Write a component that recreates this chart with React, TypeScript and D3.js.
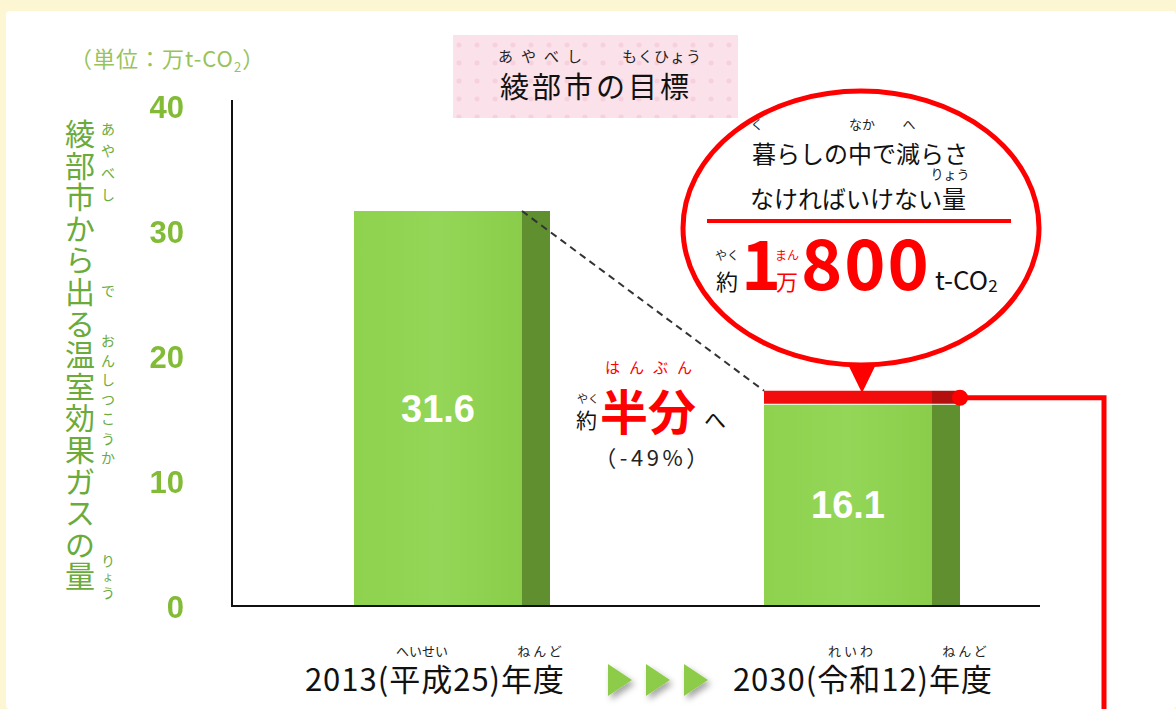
import React from "react";
import * as d3 from "d3";

const categories = ["2013", "2030"];
const values = [31.6, 16.1];
const barLabels = ["31.6", "16.1"];
const yTicks = [0, 10, 20, 30, 40];
const yearLabels = ["2013(平成25)年度", "2030(令和12)年度"];
const axisTitleChars = Array.from("綾部市から出る温室効果ガスの量");

const W = 1176;
const H = 709;
const JP = "'Noto Sans CJK JP', 'Noto Sans', sans-serif";
const NUM = "'Liberation Sans', Arial, sans-serif";

export default function App() {
  const y = d3.scaleLinear().domain([0, 40]).range([606, 106]);
  const x = d3.scalePoint<string>().domain(categories).range([452, 862]);
  const barW = 196;
  const sideW = 28;
  const x0 = 232;
  const x1 = 1040;

  const bar1Right = (x(categories[0]) as number) + barW / 2 - sideW;
  const bar2Left = (x(categories[1]) as number) - barW / 2;
  const top1 = y(values[0]);
  const top2 = y(values[1]);
  const redBand = 14;

  return (
    <svg width={W} height={H} style={{ position: "absolute", left: 0, top: 0 }}>
      <defs>
        <pattern id="dots" width="18" height="18" patternUnits="userSpaceOnUse">
          <rect width="18" height="18" fill="#fbe1ea" />
          <circle cx="9" cy="9" r="2.5" fill="#f6d0dd" />
        </pattern>
        <linearGradient id="barg" x1="0" x2="1" y1="0" y2="0">
          <stop offset="0" stopColor="#8ed24e" />
          <stop offset="0.5" stopColor="#94d657" />
          <stop offset="1" stopColor="#8acd4a" />
        </linearGradient>
        <filter id="glow" x="-20%" y="-20%" width="140%" height="140%">
          <feGaussianBlur stdDeviation="0.6" />
        </filter>
        <filter id="shadow" x="-30%" y="-30%" width="180%" height="180%">
          <feDropShadow dx="3" dy="4" stdDeviation="3" floodColor="#000" floodOpacity="0.35" />
        </filter>
      </defs>
      <rect x={0} y={0} width={W} height={H} fill="#fdf6d2" />
      <rect x={6} y={11} width={W - 6} height={H - 11} rx={4} fill="#ffffff" />

      {/* unit label */}
      <text x={70} y={67} fontFamily={JP} fontSize={22} fill="#97c35a" letterSpacing={1}>
        （単位：万t-CO<tspan fontSize={13} dy={5}>2</tspan>
        <tspan dy={-5}>）</tspan>
      </text>

      {/* title box */}
      <rect x={453} y={35} width={285} height={83} fill="url(#dots)" />
      <text x={544} y={62} fontFamily={JP} fontSize={15} fill="#222" textAnchor="middle" letterSpacing={8}>あやべし</text>
      <text x={662} y={62} fontFamily={JP} fontSize={15} fill="#222" textAnchor="middle" letterSpacing={1}>もくひょう</text>
      <text x={596} y={98} fontFamily={JP} fontSize={29} fill="#111" textAnchor="middle" letterSpacing={3}>綾部市の目標</text>

      {/* y axis title */}
      {axisTitleChars.map((c, i) => (
        <text key={i} x={80} y={132 + i * 31.6} fontFamily={JP} fontSize={30} fill="#6aab3c" textAnchor="middle" dominantBaseline="central">{c}</text>
      ))}
      {Array.from("あやべし").map((c, i) => (
        <text key={"a" + i} x={108} y={128 + i * 22} fontFamily={JP} fontSize={14} fill="#6aab3c" textAnchor="middle" dominantBaseline="central">{c}</text>
      ))}
      <text x={108} y={290} fontFamily={JP} fontSize={14} fill="#6aab3c" textAnchor="middle" dominantBaseline="central">で</text>
      {Array.from("おんしつこうか").map((c, i) => (
        <text key={"o" + i} x={108} y={340 + i * 19.5} fontFamily={JP} fontSize={14} fill="#6aab3c" textAnchor="middle" dominantBaseline="central">{c}</text>
      ))}
      {["り", "ょ", "う"].map((c, i) => (
        <text key={"r" + i} x={108} y={560 + i * 16} fontFamily={JP} fontSize={i === 1 ? 11 : 14} fill="#6aab3c" textAnchor="middle" dominantBaseline="central">{c}</text>
      ))}

      {/* y ticks */}
      {yTicks.map((t) => (
        <text key={t} x={184} y={y(t) + 1} fontFamily={NUM} fontWeight="bold" fontSize={31} fill="#82bb36" textAnchor="end" dominantBaseline="central" filter="url(#glow)">{t}</text>
      ))}

      {/* bars */}
      {categories.map((c, i) => {
        const cx = x(c) as number;
        const left = cx - barW / 2;
        const top = y(values[i]);
        return (
          <g key={c}>
            <rect x={left} y={top} width={barW - sideW} height={y(0) - top} fill="url(#barg)" />
            <rect x={left + barW - sideW} y={top} width={sideW} height={y(0) - top} fill="#5f8f2f" />
            <text x={left + (barW - sideW) / 2} y={(top + y(0)) / 2} fontFamily={NUM} fontWeight="bold" fontSize={38} fill="#ffffff" textAnchor="middle" dominantBaseline="central">{barLabels[i]}</text>
          </g>
        );
      })}

      {/* red band on 2030 bar */}
      <rect x={bar2Left} y={top2 - redBand} width={barW - sideW} height={redBand - 1} fill="#f20c0c" />
      <rect x={bar2Left + barW - sideW} y={top2 - redBand} width={sideW} height={redBand - 1} fill="#b30f0f" />

      {/* axes */}
      <line x1={x0} x2={x0} y1={100} y2={y(0) + 1} stroke="#111" strokeWidth={2} />
      <line x1={x0} x2={x1} y1={y(0)} y2={y(0)} stroke="#111" strokeWidth={2} />

      {/* dashed connector */}
      <line x1={bar1Right} y1={top1} x2={bar2Left} y2={top2 - redBand} stroke="#333" strokeWidth={2} strokeDasharray="7 5" />

      {/* red leader */}
      <polyline points={`${bar2Left + barW},${top2 - 7} 1104,${top2 - 7} 1104,${H}`} fill="none" stroke="#ff0000" strokeWidth={5} />
      <circle cx={bar2Left + barW} cy={top2 - 7} r={8} fill="#ff0000" />

      {/* callout bubble */}
      <polygon points="841,350 883,350 862,393" fill="#ff0000" />
      <ellipse cx={861} cy={228} rx={178} ry={137} fill="#ffffff" stroke="#ff0000" strokeWidth={5} />
      <text x={757} y={129} fontFamily={JP} fontSize={13} fill="#222" textAnchor="middle">く</text>
      <text x={862} y={129} fontFamily={JP} fontSize={13} fill="#222" textAnchor="middle">なか</text>
      <text x={909} y={129} fontFamily={JP} fontSize={13} fill="#222" textAnchor="middle">へ</text>
      <text x={860} y={163} fontFamily={JP} fontSize={24} fill="#111" textAnchor="middle">暮らしの中で減らさ</text>
      <text x={950} y={179} fontFamily={JP} fontSize={13} fill="#222" textAnchor="middle">りょう</text>
      <text x={858} y={208} fontFamily={JP} fontSize={24} fill="#111" textAnchor="middle">なければいけない量</text>
      <line x1={707} x2={1011} y1={221} y2={221} stroke="#ff0000" strokeWidth={4} />
      <text x={727} y={260} fontFamily={JP} fontSize={12} fill="#222" textAnchor="middle">やく</text>
      <text x={716} y={290} fontFamily={JP} fontSize={22} fill="#111">約</text>
      <text x={741} y={290} fontFamily={JP} fontSize={68} fontWeight="bold" fill="#ff0000">1</text>
      <text x={787} y={260} fontFamily={JP} fontSize={12} fill="#ff0000" textAnchor="middle">まん</text>
      <text x={776} y={290} fontFamily={JP} fontSize={22} fill="#ff0000">万</text>
      <text x={801} y={290} fontFamily={JP} fontSize={70} fontWeight="bold" fill="#ff0000" letterSpacing={2}>800</text>
      <text x={935} y={290} fontFamily={JP} fontSize={26} fill="#111">t-CO<tspan fontSize={17} dy={2}>2</tspan></text>

      {/* middle annotation */}
      <text x={653} y={373} fontFamily={JP} fontSize={15} fill="#ff0000" textAnchor="middle" letterSpacing={9}>はんぶん</text>
      <text x={588} y={403} fontFamily={JP} fontSize={11} fill="#222" textAnchor="middle">やく</text>
      <text x={576} y={428} fontFamily={JP} fontSize={21} fill="#111">約</text>
      <text x={600} y={430} fontFamily={JP} fontSize={48} fontWeight="bold" fill="#ff0000">半分</text>
      <text x={704} y={428} fontFamily={JP} fontSize={22} fill="#111">へ</text>
      <text x={653} y={466} fontFamily={JP} fontSize={22} fill="#222" textAnchor="middle" letterSpacing={3.5}>（-49%）</text>

      {/* year labels */}
      <text x={422} y={656} fontFamily={JP} fontSize={13} fill="#222" textAnchor="middle">へいせい</text>
      <text x={541} y={656} fontFamily={JP} fontSize={13} fill="#222" textAnchor="middle" letterSpacing={3}>ねんど</text>
      <text x={435} y={691} fontFamily={JP} fontSize={31} fill="#111" textAnchor="middle" letterSpacing={1}>{yearLabels[0]}</text>
      <text x={852} y={656} fontFamily={JP} fontSize={13} fill="#222" textAnchor="middle" letterSpacing={3}>れいわ</text>
      <text x={966} y={656} fontFamily={JP} fontSize={13} fill="#222" textAnchor="middle" letterSpacing={3}>ねんど</text>
      <text x={863} y={691} fontFamily={JP} fontSize={31} fill="#111" textAnchor="middle" letterSpacing={1}>{yearLabels[1]}</text>

      {/* arrows */}
      {[608, 646, 684].map((ax) => (
        <polygon key={ax} points={`${ax},664 ${ax + 24},680 ${ax},696`} fill="#8ccc48" filter="url(#shadow)" />
      ))}
    </svg>
  );
}
